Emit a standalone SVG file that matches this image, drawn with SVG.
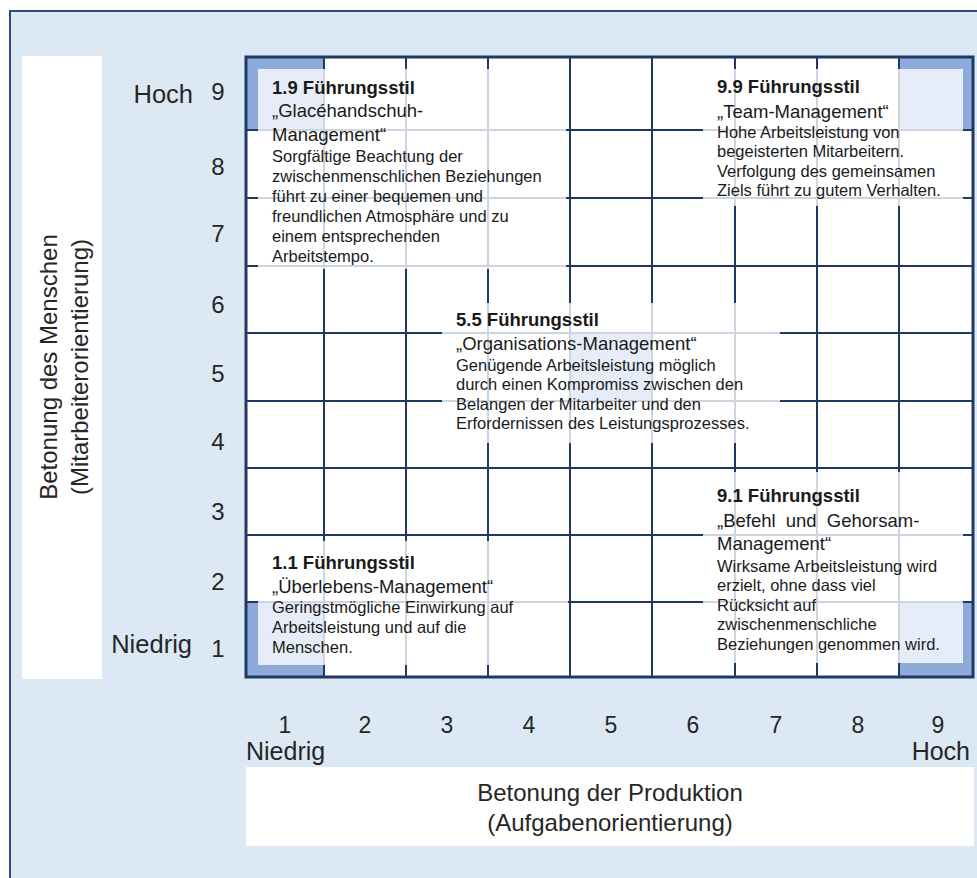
<svg xmlns="http://www.w3.org/2000/svg" width="977" height="878" viewBox="0 0 977 878">
<style>
text{font-family:"Liberation Sans",Arial,sans-serif;fill:#1a1a1a}
.ax{font-size:24px;fill:#262626}
.nx{font-size:23px;fill:#262626}
.lb{font-size:25.5px;fill:#262626}
.lx{font-size:25px;fill:#262626}
.t{font-size:18.5px;font-weight:bold}
.s{font-size:18.5px}
.b{font-size:16.5px}
.gl{stroke:#1f3864;stroke-width:2;fill:none}
.hl{fill:#8eaadb}
.ov{fill:#fff;fill-opacity:0.79}
</style>
<rect x="0" y="0" width="977" height="878" fill="#fff"/>
<rect x="10" y="11" width="980" height="880" fill="#dde8f5" stroke="#2e4a7d" stroke-width="2"/>
<rect x="22" y="56" width="80" height="623" fill="#fff"/>
<rect x="246" y="767" width="728" height="79" fill="#fff"/>
<g id="grid">
<rect x="246" y="57" width="727" height="620" fill="#fff"/>
<rect class="hl" x="246" y="57" width="78" height="73"/>
<rect class="hl" x="899" y="57" width="74" height="73"/>
<rect class="hl" x="246" y="602" width="78" height="75"/>
<rect class="hl" x="899" y="602" width="74" height="75"/>
<rect class="hl" x="570" y="333" width="82" height="68"/>
<path class="gl" d="M324 57V677M406 57V677M488 57V677M570 57V677M652 57V677M735 57V677M817 57V677M899 57V677M246 130H973M246 198H973M246 266H973M246 333H973M246 401H973M246 468H973M246 535H973M246 602H973"/>
<rect x="246" y="57" width="727" height="620" fill="none" stroke="#1f3864" stroke-width="3"/>
</g>
<g id="axis-y">
<g transform="translate(57,367) rotate(-90)"><text class="ax" x="0" y="0" text-anchor="middle">Betonung des Menschen</text></g>
<g transform="translate(88,367) rotate(-90)"><text class="ax" x="0" y="0" text-anchor="middle">(Mitarbeiterorientierung)</text></g>
<text class="lb" x="193" y="103" text-anchor="end">Hoch</text>
<text class="lb" x="192" y="653" text-anchor="end">Niedrig</text>
<text class="ax" x="218" y="100" text-anchor="middle">9</text>
<text class="ax" x="218" y="175" text-anchor="middle">8</text>
<text class="ax" x="218" y="242" text-anchor="middle">7</text>
<text class="ax" x="218" y="313" text-anchor="middle">6</text>
<text class="ax" x="218" y="382" text-anchor="middle">5</text>
<text class="ax" x="218" y="450" text-anchor="middle">4</text>
<text class="ax" x="218" y="520" text-anchor="middle">3</text>
<text class="ax" x="218" y="590" text-anchor="middle">2</text>
<text class="ax" x="218" y="657" text-anchor="middle">1</text>
</g>
<g id="axis-x">
<text class="nx" x="285" y="733" text-anchor="middle">1</text>
<text class="nx" x="365" y="733" text-anchor="middle">2</text>
<text class="nx" x="447" y="733" text-anchor="middle">3</text>
<text class="nx" x="529" y="733" text-anchor="middle">4</text>
<text class="nx" x="611" y="733" text-anchor="middle">5</text>
<text class="nx" x="693" y="733" text-anchor="middle">6</text>
<text class="nx" x="776" y="733" text-anchor="middle">7</text>
<text class="nx" x="858" y="733" text-anchor="middle">8</text>
<text class="nx" x="938" y="733" text-anchor="middle">9</text>
<text class="lx" x="246" y="760">Niedrig</text>
<text class="lx" x="970" y="760" text-anchor="end">Hoch</text>
<text class="ax" x="610" y="801" text-anchor="middle">Betonung der Produktion</text>
<text class="ax" x="610" y="831" text-anchor="middle">(Aufgabenorientierung)</text>
</g>
<g id="stil-1-9">
<rect class="ov" x="258" y="69" width="308" height="200"/>
<text class="t" x="272" y="94">1.9 Führungsstil</text>
<text class="s" x="272" y="117">„Glacéhandschuh-</text>
<text class="s" x="272" y="141">Management“</text>
<text class="b" x="272" y="162">Sorgfältige Beachtung der</text>
<text class="b" x="272" y="182">zwischenmenschlichen Beziehungen</text>
<text class="b" x="272" y="202">führt zu einer bequemen und</text>
<text class="b" x="272" y="222">freundlichen Atmosphäre und zu</text>
<text class="b" x="272" y="242">einem entsprechenden</text>
<text class="b" x="272" y="262">Arbeitstempo.</text>
</g>
<g id="stil-9-9">
<rect class="ov" x="703" y="69" width="260" height="137"/>
<text class="t" x="717" y="93">9.9 Führungsstil</text>
<text class="s" x="717" y="118">„Team-Management“</text>
<text class="b" x="717" y="138">Hohe Arbeitsleistung von</text>
<text class="b" x="717" y="157">begeisterten Mitarbeitern.</text>
<text class="b" x="717" y="177">Verfolgung des gemeinsamen</text>
<text class="b" x="717" y="196">Ziels führt zu gutem Verhalten.</text>
</g>
<g id="stil-5-5">
<rect class="ov" x="442" y="303" width="338" height="140"/>
<text class="t" x="456" y="326">5.5 Führungsstil</text>
<text class="s" x="456" y="350">„Organisations-Management“</text>
<text class="b" x="456" y="371">Genügende Arbeitsleistung möglich</text>
<text class="b" x="456" y="390">durch einen Kompromiss zwischen den</text>
<text class="b" x="456" y="410">Belangen der Mitarbeiter und den</text>
<text class="b" x="456" y="429">Erfordernissen des Leistungsprozesses.</text>
</g>
<g id="stil-1-1">
<rect class="ov" x="258" y="541" width="310" height="124"/>
<text class="t" x="272" y="569">1.1 Führungsstil</text>
<text class="s" x="272" y="593">„Überlebens-Management“</text>
<text class="b" x="272" y="613">Geringstmögliche Einwirkung auf</text>
<text class="b" x="272" y="633">Arbeitsleistung und auf die</text>
<text class="b" x="272" y="653">Menschen.</text>
</g>
<g id="stil-9-1">
<rect class="ov" x="703" y="472" width="260" height="191"/>
<text class="t" x="717" y="502">9.1 Führungsstil</text>
<text class="s" x="717" y="527" word-spacing="5">„Befehl und Gehorsam-</text>
<text class="s" x="717" y="550">Management“</text>
<text class="b" x="717" y="572">Wirksame Arbeitsleistung wird</text>
<text class="b" x="717" y="591">erzielt, ohne dass viel</text>
<text class="b" x="717" y="611">Rücksicht auf</text>
<text class="b" x="717" y="630">zwischenmenschliche</text>
<text class="b" x="717" y="650">Beziehungen genommen wird.</text>
</g>
</svg>
